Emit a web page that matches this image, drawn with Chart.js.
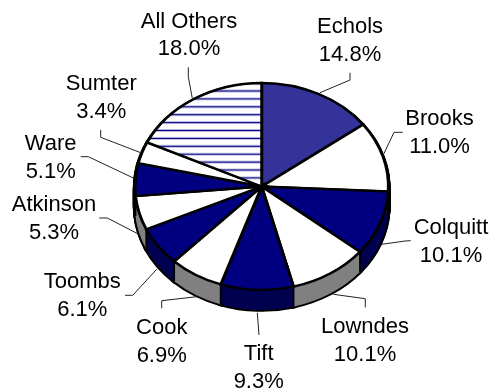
<!DOCTYPE html>
<html>
<head>
<meta charset="utf-8">
<style>html,body{margin:0;padding:0;background:#fff}#w{position:relative;width:490px;height:392px}canvas{display:block}</style>
<script src="https://cdn.jsdelivr.net/npm/chart.js@4"></script>
</head>
<body>
<div id="w"><canvas id="c" width="490" height="392"></canvas></div>
<script>
const categories = ['Echols','Brooks','Colquitt','Lowndes','Tift','Cook','Toombs','Atkinson','Ware','Sumter','All Others'];
const shares = [14.8,11.0,10.1,10.1,9.3,6.9,6.1,5.3,5.1,3.4,18.0];

const NAVY='#000080', BLUE='#333399', WHITE='#ffffff', GREY='#808080', DARK='#000050';
const topColors = [BLUE,WHITE,NAVY,WHITE,NAVY,WHITE,NAVY,WHITE,NAVY,WHITE,'stripes'];
const wallColors = [BLUE,GREY,DARK,GREY,DARK,GREY,DARK,GREY,DARK,GREY,GREY];

// label text anchors: centre x, first and second baseline
const labelPos = [[350,33,61],[439.5,124.5,153],[451,234,262],[365,333,361],[258.7,360,388],[161.7,334,361.5],[82.3,288,316],[54,211,239],[50.7,149.5,178],[101.3,89.5,118],[189,27.5,55]];
// leader line polylines
const leaders = [
 [[320,92.7],[350,80],[350,72.7]],
 [[383.3,155],[394,132.3],[402.7,132.3]],
 [[381.7,244.3],[405,241],[410.7,240.7]],
 [[333.3,294.3],[365.3,298.7],[365.3,307.3]],
 [[257.3,312.7],[259,335]],
 [[196.7,296.7],[161.7,300.7],[161.7,308.3]],
 [[156.7,269.3],[132.7,295.3],[125,295.3]],
 [[138.3,234],[107.3,218],[99.3,218]],
 [[134,178.3],[88.3,156.7],[80.7,156.7]],
 [[140.7,152.7],[100.7,137.3],[100.7,130]],
 [[192.3,98.3],[188.3,76.7],[188.3,67.3]]
];

const W=490,H=392,CX=261.7,CY=186.5,RX=126.7,SQUASH=0.817,DEPTH=20;

function stripes(){
  const p=document.createElement('canvas');p.width=8;p.height=8;
  const g=p.getContext('2d');
  g.fillStyle='#fff';g.fillRect(0,0,8,8);
  g.fillStyle='#b8b8e0';g.fillRect(0,0,8,3);
  g.fillStyle=NAVY;g.fillRect(0,1,8,1);
  const pat=g.createPattern(p,'repeat');
  const period=7.9, off=89.5;
  pat.setTransform(new DOMMatrix([1,0,0,period/8/SQUASH,0,(off-CY)/SQUASH+CY]));
  return pat;
}
const fills=topColors.map(c=>c==='stripes'?stripes():c);

function squash(ctx,cy,dy){
  ctx.translate(0,cy+dy);ctx.scale(1,SQUASH);ctx.translate(0,-cy);
}
function drawWith(arc,ctx,over){
  const o=arc.options;
  arc.options=Object.assign({},o,over);
  arc.draw(ctx);
  arc.options=o;
}
const tiltPlugin={
  id:'tilt',
  beforeDatasetsDraw(chart){
    const ctx=chart.ctx, arcs=chart.getDatasetMeta(0).data;
    const cy=arcs[0].y;
    // black rim under the side wall
    for(let d=DEPTH;d>=1;d--){
      ctx.save();squash(ctx,cy,d);
      arcs.forEach(a=>drawWith(a,ctx,{backgroundColor:'#000',borderColor:'#000',borderWidth:4.4}));
      ctx.restore();
    }
    // coloured side wall
    for(let d=DEPTH;d>=1;d--){
      ctx.save();squash(ctx,cy,d);
      arcs.forEach((a,i)=>drawWith(a,ctx,{backgroundColor:wallColors[i],borderWidth:0}));
      ctx.restore();
    }
    // vertical joints between wedges on the front of the wall
    ctx.save();
    ctx.strokeStyle='#000';ctx.lineWidth=1.8;
    arcs.forEach(a=>{
      const s=Math.sin(a.startAngle);
      if(s>0){
        const x=a.x+a.outerRadius*Math.cos(a.startAngle);
        const y=a.y+a.outerRadius*s*SQUASH;
        ctx.beginPath();ctx.moveTo(x,y);ctx.lineTo(x,y+DEPTH);ctx.stroke();
      }
    });
    ctx.restore();
    ctx.save();squash(ctx,cy,0);
  },
  afterDatasetsDraw(chart){
    const ctx=chart.ctx;
    ctx.restore();
    ctx.save();
    ctx.strokeStyle='#222';ctx.lineWidth=1;ctx.lineJoin='miter';
    leaders.forEach(l=>{
      ctx.beginPath();
      l.forEach((p,i)=>i?ctx.lineTo(p[0],p[1]):ctx.moveTo(p[0],p[1]));
      ctx.stroke();
    });
    ctx.fillStyle='#000';ctx.textAlign='center';ctx.textBaseline='alphabetic';
    ctx.font='22px "Liberation Sans", Arial, sans-serif';
    categories.forEach((c,i)=>{
      const p=labelPos[i];
      ctx.fillText(c,p[0],p[1]);
      ctx.fillText(shares[i].toFixed(1)+'%',p[0],p[2]);
    });
    ctx.restore();
  }
};

new Chart(document.getElementById('c'),{
  type:'pie',
  data:{labels:categories,datasets:[{data:shares,backgroundColor:fills,borderColor:'#000',borderWidth:2.9,clip:false}]},
  options:{
    responsive:false,animation:false,radius:RX,
    layout:{padding:{left:2*CX-W,bottom:H-2*CY}},
    plugins:{legend:{display:false},tooltip:{enabled:false}},
    elements:{arc:{borderAlign:'center',borderJoinStyle:'miter'}}
  },
  plugins:[tiltPlugin]
});
</script>
</body>
</html>
